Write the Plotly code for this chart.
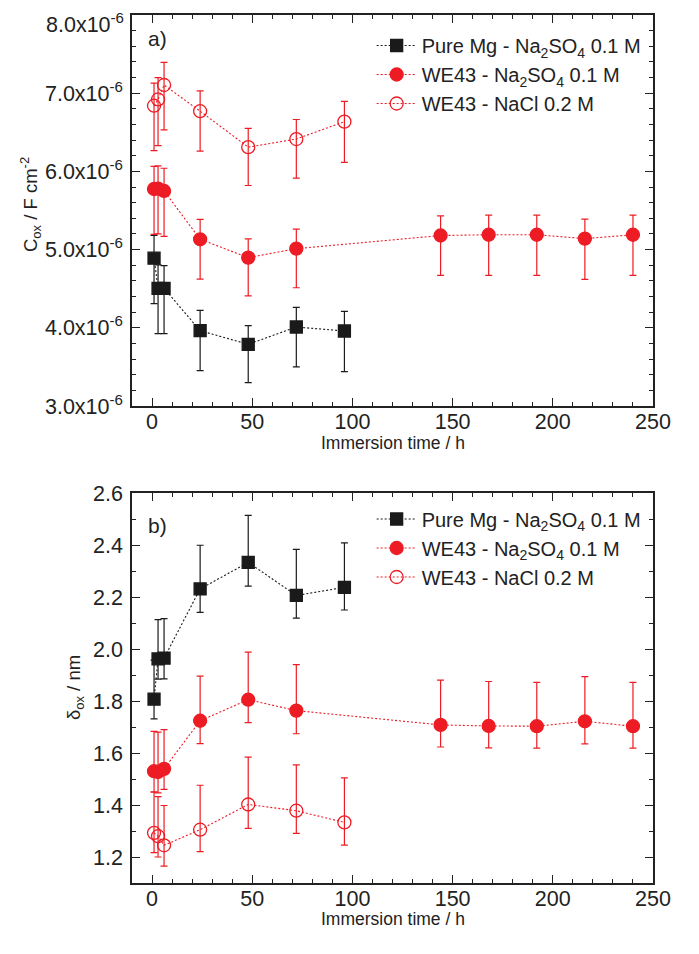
import plotly.graph_objects as go

# ---------------- data ----------------
t_mg = [1, 3, 6, 24, 48, 72, 96]
t_we_so4 = [1, 3, 6, 24, 48, 72, 144, 168, 192, 216, 240]
t_we_nacl = [1, 3, 6, 24, 48, 72, 96]

# Panel a) C_ox in units of 1e-6 F cm^-2
cox_mg = [4.89, 4.505, 4.505, 3.963, 3.789, 4.01, 3.959]
cox_mg_up = [0.29, 0.30, 0.29, 0.26, 0.24, 0.25, 0.25]
cox_mg_dn = [0.58, 0.58, 0.58, 0.51, 0.49, 0.51, 0.52]

cox_so4 = [5.775, 5.78, 5.75, 5.132, 4.897, 5.012, 5.18, 5.19, 5.19, 5.14, 5.19]
cox_so4_up = [0.29, 0.29, 0.29, 0.255, 0.24, 0.25, 0.25, 0.25, 0.25, 0.25, 0.25]
cox_so4_dn = [0.58, 0.58, 0.58, 0.51, 0.49, 0.50, 0.51, 0.52, 0.52, 0.52, 0.52]

cox_nacl = [6.84, 6.92, 7.105, 6.77, 6.31, 6.414, 6.636]
cox_nacl_up = [0.29, 0.28, 0.29, 0.26, 0.24, 0.25, 0.26]
cox_nacl_dn = [0.575, 0.59, 0.575, 0.51, 0.49, 0.50, 0.52]

# Panel b) delta_ox in nm
d_mg = [1.807, 1.962, 1.965, 2.231, 2.333, 2.206, 2.237]
d_mg_up = [0.15, 0.151, 0.152, 0.168, 0.181, 0.177, 0.171]
d_mg_dn = [0.076, 0.078, 0.08, 0.09, 0.091, 0.087, 0.087]

d_so4 = [1.530, 1.527, 1.539, 1.724, 1.805, 1.763, 1.708, 1.704, 1.703, 1.722, 1.703]
d_so4_up = [0.153, 0.153, 0.151, 0.172, 0.183, 0.177, 0.172, 0.171, 0.169, 0.172, 0.169]
d_so4_dn = [0.081, 0.08, 0.079, 0.088, 0.088, 0.089, 0.085, 0.084, 0.084, 0.087, 0.084]

d_nacl = [1.293, 1.28, 1.245, 1.305, 1.402, 1.378, 1.333]
d_nacl_up = [0.158, 0.152, 0.153, 0.171, 0.182, 0.176, 0.171]
d_nacl_dn = [0.076, 0.08, 0.08, 0.084, 0.092, 0.087, 0.087]

names = ["Pure Mg - Na<sub>2</sub>SO<sub>4</sub> 0.1 M",
         "WE43 - Na<sub>2</sub>SO<sub>4</sub> 0.1 M",
         "WE43 - NaCl 0.2 M"]

cox_ticks = [3, 4, 5, 6, 7, 8]
cox_ticktext = ["%.1fx10<sup>-6</sup>" % v for v in cox_ticks]
d_ticks = [1.2, 1.4, 1.6, 1.8, 2.0, 2.2, 2.4, 2.6]
x_title = "Immersion time / h"
y_title_a = "C<sub>ox</sub> / F cm<sup>-2</sup>"
y_title_b = "δ<sub>ox</sub> / nm"

# ---------------- styles ----------------
RED = "#ED1C24"
BLACK = "#1a1a1a"
AX = "#222222"
FONT = "Liberation Sans, Arial, sans-serif"

styles = [
    dict(color=BLACK, symbol="square", fill=BLACK, size=12),
    dict(color=RED, symbol="circle", fill=RED, size=13),
    dict(color=RED, symbol="circle-open", fill=RED, size=13),
]

fig = go.Figure()

def add(x, y, up, dn, k, xa, ya, leg, scale=1.0):
    s = styles[k]
    fig.add_trace(go.Scatter(
        x=x, y=[v * scale for v in y],
        xaxis=xa, yaxis=ya, legend=leg,
        name=names[k], legendgroup=leg + str(k),
        mode="lines+markers",
        line=dict(color=s["color"], width=1.1, dash="2px,2px"),
        marker=dict(symbol=s["symbol"], size=s["size"], color=s["fill"],
                    line=dict(color=s["color"], width=1.3)),
        error_y=dict(type="data", symmetric=False,
                     array=[v * scale for v in up],
                     arrayminus=[v * scale for v in dn],
                     color=s["color"], thickness=1.2, width=3.5),
    ))

E = 1e-6
add(t_mg, cox_mg, cox_mg_up, cox_mg_dn, 0, "x", "y", "legend", E)
add(t_we_so4, cox_so4, cox_so4_up, cox_so4_dn, 1, "x", "y", "legend", E)
add(t_we_nacl, cox_nacl, cox_nacl_up, cox_nacl_dn, 2, "x", "y", "legend", E)

add(t_mg, d_mg, d_mg_up, d_mg_dn, 0, "x2", "y2", "legend2")
add(t_we_so4, d_so4, d_so4_up, d_so4_dn, 1, "x2", "y2", "legend2")
add(t_we_nacl, d_nacl, d_nacl_up, d_nacl_dn, 2, "x2", "y2", "legend2")

TICKFS = 21.5
common_axis = dict(
    showline=True, linecolor=AX, linewidth=1.5, mirror="allticks",
    ticks="inside", ticklen=8, tickwidth=1.3, tickcolor=AX,
    showgrid=False, zeroline=False, automargin=False,
    ticklabeloverflow="allow",
    tickfont=dict(family=FONT, size=TICKFS, color=AX),
)

xcommon = dict(common_axis, range=[-10, 250], tickmode="linear", tick0=0, dtick=50,
               ticklabelstandoff=-5,
               minor=dict(ticks="inside", ticklen=4, tickwidth=1.2, tickcolor=AX, dtick=10))

# the page offsets the figure by 8px; sizes chosen so plot areas land on the reference
W, H = 691, 946
ML, MR, MT, MB = 124, 46, 7, 71
PH = H - MT - MB  # 868
PW = W - ML - MR
top_dom = [(883 - 406) / 868, 1.0]
bot_dom = [0.0, 390 / 868]

def py(pix):  # page pixel y -> paper y
    return 1 - (pix - 8 - MT) / PH

def px(pix):  # page pixel x -> paper x
    return (pix - 8 - ML) / PW

# top-most C_ox label drawn as annotation so its superscript is not clipped
axis_text_a = [t if v != 8 else "" for v, t in zip(cox_ticks, cox_ticktext)]

TITLEFS = 17.5
YTITLEFS = 18.5

fig.update_layout(
    width=W, height=H,
    margin=dict(l=ML, r=MR, t=MT, b=MB),
    paper_bgcolor="white", plot_bgcolor="white",
    font=dict(family=FONT, color=AX),
    xaxis=dict(xcommon, anchor="y", domain=[0, 1]),
    xaxis2=dict(xcommon, anchor="y2", domain=[0, 1]),
    yaxis=dict(common_axis, anchor="x", domain=top_dom, range=[3e-6, 8e-6],
               tickmode="array", tickvals=[v * E for v in cox_ticks], ticktext=axis_text_a,
               ticklabelstandoff=3,
               minor=dict(ticks="inside", ticklen=4, tickwidth=1.2, tickcolor=AX,
                          tickmode="linear", tick0=3e-6, dtick=0.2e-6)),
    yaxis2=dict(common_axis, anchor="x2", domain=bot_dom, range=[1.1, 2.6],
                tickmode="array", tickvals=d_ticks, ticktext=["%.1f" % v for v in d_ticks],
                ticklabelstandoff=3,
                minor=dict(ticks="inside", ticklen=4, tickwidth=1.2, tickcolor=AX,
                           tickmode="linear", tick0=1.1, dtick=0.1)),
    legend=dict(x=0.46, y=py(26), xanchor="left", yanchor="top",
                bgcolor="rgba(0,0,0,0)", font=dict(family=FONT, size=20, color=AX),
                tracegroupgap=0, itemwidth=40),
    legend2=dict(x=0.46, y=py(499.5), xanchor="left", yanchor="top",
                 bgcolor="rgba(0,0,0,0)", font=dict(family=FONT, size=20, color=AX),
                 tracegroupgap=0, itemwidth=40),
    showlegend=True,
    annotations=[
        dict(text=cox_ticktext[-1], xref="paper", yref="paper", x=px(125), y=1 + MT / PH,
             xanchor="right", yanchor="top", showarrow=False, borderpad=0,
             font=dict(family=FONT, size=TICKFS, color=AX)),
        dict(text="a)", xref="paper", yref="paper", x=px(157), y=py(39),
             xanchor="center", yanchor="middle",
             showarrow=False, font=dict(family=FONT, size=21, color=AX)),
        dict(text="b)", xref="paper", yref="paper", x=px(157), y=py(525),
             xanchor="center", yanchor="middle",
             showarrow=False, font=dict(family=FONT, size=21, color=AX)),
        dict(text=x_title, xref="paper", yref="paper", x=0.5, y=py(443),
             xanchor="center", yanchor="middle",
             showarrow=False, font=dict(family=FONT, size=TITLEFS, color=AX)),
        dict(text=x_title, xref="paper", yref="paper", x=0.5, y=py(919),
             xanchor="center", yanchor="middle",
             showarrow=False, font=dict(family=FONT, size=TITLEFS, color=AX)),
        dict(text=y_title_a, xref="paper", yref="paper", x=px(30), y=py(205),
             xanchor="center", yanchor="middle", textangle=-90,
             showarrow=False, font=dict(family=FONT, size=YTITLEFS, color=AX)),
        dict(text=y_title_b, xref="paper", yref="paper", x=px(75), y=py(688),
             xanchor="center", yanchor="middle", textangle=-90,
             showarrow=False, font=dict(family=FONT, size=YTITLEFS, color=AX)),
    ],
)

fig.write_html("out.html")
